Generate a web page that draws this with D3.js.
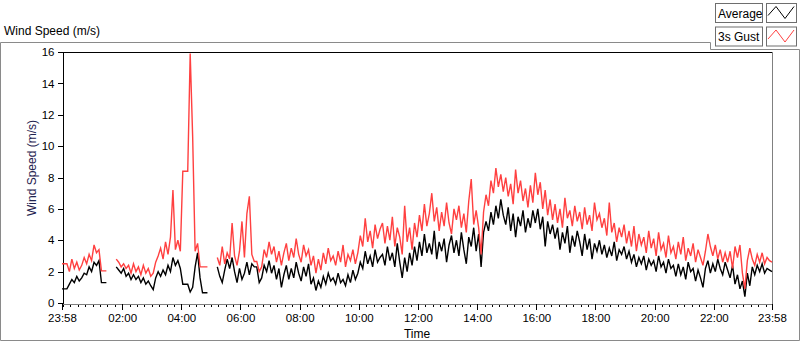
<!DOCTYPE html>
<html>
<head>
<meta charset="utf-8">
<style>
  body { margin: 0; background: #fff; }
  svg text { font-family: "Liberation Sans", Arial, sans-serif; fill: #000; }
</style>
</head>
<body>
<script src="https://cdn.jsdelivr.net/npm/d3@7"></script>
<script>
var width = 800, height = 342;

// one reading every 5 minutes, starting 23:58
var startTime = new Date(2000, 0, 1, 23, 58);
var stepMinutes = 5;

var avgSpeed = [
  0.9,0.9,0.9,1.2,1.5,1.3,1.7,1.4,1.6,1.9,
  1.8,2.3,2.0,2.6,2.4,2.7,1.3,1.3,1.3,null,
  null,null,2.3,2.1,1.9,2.2,1.7,1.9,1.5,1.8,
  1.5,1.7,1.3,1.6,1.2,1.4,1.1,0.85,1.6,2.0,
  1.7,2.1,1.8,2.4,2.0,2.9,2.4,2.7,2.2,1.2,
  1.2,1.2,0.7,1.0,2.3,3.2,1.6,0.65,0.65,0.65,
  null,null,null,2.3,1.7,1.3,2.1,2.8,2.2,2.9,
  2.0,1.3,2.2,1.5,1.9,2.6,1.8,2.5,2.3,2.3,
  1.3,1.6,2.4,2.0,2.7,1.9,2.4,1.5,2.2,1.0,
  1.8,2.4,1.5,2.2,1.6,2.6,1.9,1.4,2.3,1.7,
  2.5,1.2,1.6,0.8,1.4,1.0,1.7,1.2,1.9,1.4,
  1.6,1.2,1.9,1.3,1.5,1.1,1.8,1.3,2.1,1.5,
  1.9,2.6,2.2,3.3,2.5,3.0,2.3,3.4,2.6,2.9,
  3.1,2.4,3.6,2.7,3.2,2.3,3.8,2.6,1.6,2.9,
  2.0,3.2,2.4,3.6,2.7,3.9,3.0,4.4,3.2,3.8,
  3.1,4.6,2.8,3.9,3.3,4.1,2.6,3.7,4.3,3.2,
  4.0,3.0,4.5,3.4,2.5,4.2,3.6,4.8,3.3,4.4,
  2.3,4.5,5.2,4.6,5.8,5.0,6.2,5.4,6.6,5.6,
  5.0,6.1,4.6,5.7,4.2,5.5,4.9,5.9,4.5,5.4,
  4.8,5.9,5.1,6.0,4.7,5.5,3.6,5.2,4.4,5.0,
  4.1,4.8,3.4,4.5,3.8,4.9,3.2,4.3,3.6,4.6,
  3.9,3.0,4.4,3.4,4.1,2.8,3.8,3.3,4.0,3.1,
  3.7,2.9,3.5,3.0,3.9,2.7,3.4,3.1,3.6,2.8,
  3.3,2.6,3.1,2.3,2.9,2.5,3.0,2.1,2.8,2.4,
  2.7,2.0,3.0,2.3,2.6,1.9,2.8,2.2,2.4,1.7,
  2.5,1.8,2.3,1.5,2.6,2.0,2.2,1.4,2.1,1.6,
  1.0,2.2,2.7,1.9,2.5,2.0,2.8,2.2,1.8,2.6,
  2.1,1.6,2.4,1.2,1.8,0.9,1.4,0.4,1.9,1.1,
  2.3,1.8,2.4,2.0,2.5,1.9,2.2,2.1,2.0
];

var gustSpeed = [
  2.5,2.5,2.5,2.0,2.8,2.2,2.6,2.1,2.4,2.9,
  2.5,3.1,2.7,3.7,3.2,3.4,2.05,2.05,2.05,null,
  null,null,2.8,2.6,2.3,2.5,2.2,2.4,1.9,2.5,
  2.0,2.3,1.8,2.4,1.9,2.2,1.7,1.9,2.6,3.0,
  3.5,2.8,3.9,3.1,4.2,7.2,3.4,4.0,3.3,8.4,
  8.4,8.4,15.9,10.6,3.3,3.8,2.3,2.3,2.3,2.3,
  null,null,null,2.9,2.4,3.6,2.5,3.2,2.8,5.1,
  3.0,2.4,3.3,5.2,2.9,5.7,6.8,3.1,2.65,2.65,
  2.0,2.3,3.4,2.9,3.9,3.1,3.6,2.6,3.3,2.4,
  3.2,3.8,2.7,3.5,2.9,4.1,3.1,2.6,3.7,3.0,
  3.4,2.4,3.0,1.9,2.8,2.1,3.2,2.5,3.5,2.7,
  3.0,2.4,3.3,2.6,3.7,2.3,3.1,2.7,3.4,2.5,
  3.2,4.3,3.6,5.4,3.9,4.6,3.5,5.0,4.1,4.7,
  5.1,3.8,4.9,4.0,5.5,3.6,4.8,4.2,3.1,6.2,
  3.9,4.8,3.4,5.1,4.2,5.6,4.6,6.3,4.9,5.7,
  7.0,5.2,6.1,4.6,5.8,4.9,6.4,5.1,4.4,6.0,
  5.3,6.2,4.8,5.7,4.5,6.5,7.9,5.0,5.9,4.8,
  3.1,5.8,6.9,6.2,7.8,7.0,8.6,7.4,8.2,7.1,
  8.0,6.8,7.6,6.3,8.5,7.0,7.8,6.5,7.3,6.1,
  7.5,6.4,8.3,6.9,7.7,6.0,7.2,5.6,6.6,5.3,
  6.3,5.1,6.0,4.8,6.7,5.4,5.9,4.9,6.2,5.2,
  5.8,4.7,6.1,5.0,5.6,4.6,6.4,5.3,5.7,4.8,
  5.4,4.3,6.4,4.5,5.1,3.9,4.8,4.2,5.0,3.8,
  4.6,3.6,4.9,3.3,4.4,3.7,4.2,3.2,4.6,3.5,
  4.1,3.0,4.5,3.4,3.8,2.9,4.3,3.2,3.6,2.8,
  3.9,3.1,4.2,2.7,3.5,3.0,3.8,2.6,3.4,2.9,
  2.4,3.3,4.4,3.6,3.0,3.7,2.8,3.4,2.6,3.2,
  2.6,3.3,2.2,3.6,2.9,3.7,1.9,0.9,2.7,3.5,
  2.8,2.4,3.1,2.6,3.2,2.5,2.9,2.7,2.6
];

var seriesNames = ["Average", "3s Gust"];
var seriesColors = ["#000000", "#ff4040"];
var yTickValues = [0, 2, 4, 6, 8, 10, 12, 14, 16];
var xTickLabels = ["23:58","02:00","04:00","06:00","08:00","10:00","12:00",
                   "14:00","16:00","18:00","20:00","22:00","23:58"];

var svg = d3.select("body").append("svg")
  .attr("width", width)
  .attr("height", height);

// outer panel border (with the notch for the legend)
svg.append("path")
  .attr("d", "M0.5,42.5H710.5V49.5H799.5V340.5H0.5Z")
  .attr("fill", "none")
  .attr("stroke", "#8a8a8a");

svg.append("text")
  .attr("x", 4).attr("y", 35)
  .style("font-size", "12px")
  .text("Wind Speed (m/s)");

var endTime = d3.timeMinute.offset(startTime, 24 * 60);
var x = d3.scaleTime().domain([startTime, endTime]).range([62, 772]);
var y = d3.scaleLinear().domain([0, 16]).range([303, 52]);

// x axis: minor ticks every 15 min, labelled ones every 2 h (skipping midnight)
var minorTicks = d3.timeMinute.every(15).range(startTime, endTime);
var evenHours = d3.timeHour.every(2).range(startTime, endTime)
  .filter(function(d) { return d - startTime > 30 * 60000; });
var majorTicks = [startTime].concat(evenHours, [endTime]);

svg.append("g")
  .attr("transform", "translate(0,303.5)")
  .call(d3.axisBottom(x).tickValues(minorTicks).tickSize(3).tickSizeOuter(0).tickFormat(""))
  .call(function(g) { g.select(".domain").remove(); })
  .selectAll("line").attr("stroke", "#000").attr("shape-rendering", "crispEdges");

var xAxis = svg.append("g")
  .attr("transform", "translate(0,303.5)")
  .call(d3.axisBottom(x).tickValues(majorTicks).tickSize(6).tickSizeOuter(0)
        .tickFormat(function(d, i) { return xTickLabels[i]; }));
xAxis.select(".domain").attr("stroke", "#808080").attr("shape-rendering", "crispEdges");
xAxis.selectAll("line").attr("stroke", "#000").attr("shape-rendering", "crispEdges");
xAxis.selectAll("text")
  .attr("y", 10)
  .style("font-size", "11.5px")
  .style("font-family", "Liberation Sans, Arial, sans-serif")
  .attr("fill", "#000");

var yAxis = svg.append("g")
  .attr("transform", "translate(62.5,0)")
  .call(d3.axisLeft(y).tickValues(yTickValues).tickSize(5).tickSizeOuter(0).tickPadding(3));
yAxis.select(".domain").attr("stroke", "#000").attr("shape-rendering", "crispEdges");
yAxis.selectAll("line").attr("stroke", "#000").attr("shape-rendering", "crispEdges");
yAxis.selectAll("text")
  .style("font-size", "11.5px")
  .style("font-family", "Liberation Sans, Arial, sans-serif")
  .attr("fill", "#000");

// top and right frame lines
svg.append("line").attr("x1", 62).attr("x2", 772).attr("y1", 52.5).attr("y2", 52.5)
  .attr("stroke", "#000");
svg.append("line").attr("x1", 772.5).attr("x2", 772.5).attr("y1", 52).attr("y2", 304)
  .attr("stroke", "#808080");

// axis titles
svg.append("text")
  .attr("x", 417).attr("y", 338)
  .attr("text-anchor", "middle")
  .style("font-size", "12px")
  .text("Time");

svg.append("text")
  .attr("transform", "translate(36,168) rotate(-90)")
  .attr("text-anchor", "middle")
  .style("font-size", "12px")
  .style("fill", "#1f2350")
  .text("Wind Speed (m/s)");

// series
function timeAt(i) { return d3.timeMinute.offset(startTime, i * stepMinutes); }

var line = d3.line()
  .defined(function(d) { return d != null; })
  .x(function(d, i) { return x(timeAt(i)); })
  .y(function(d) { return y(d); });

var plot = svg.append("g");
[avgSpeed, gustSpeed].forEach(function(vals, k) {
  plot.append("path")
    .datum(vals)
    .attr("fill", "none")
    .attr("stroke", seriesColors[k])
    .attr("stroke-width", 1.4)
    .attr("stroke-linejoin", "miter")
    .attr("d", line);
});

// legend
var legend = svg.append("g");
var zig = d3.line();
seriesNames.forEach(function(name, k) {
  var top = 3.5 + k * 23.5;
  legend.append("rect")
    .attr("x", 715.5).attr("y", top).attr("width", 47).attr("height", 19)
    .attr("fill", "#fff").attr("stroke", "#6e6e6e");
  legend.append("text")
    .attr("x", 718).attr("y", top + 14)
    .style("font-size", "12px")
    .text(name);
  legend.append("rect")
    .attr("x", 766.5).attr("y", top).attr("width", 30).attr("height", 19)
    .attr("fill", "#fff").attr("stroke", "#6e6e6e");
  legend.append("path")
    .attr("d", zig([[768, top + 12], [776, top + 3], [785, top + 15], [794, top + 3]]))
    .attr("fill", "none")
    .attr("stroke", seriesColors[k]);
});
</script>
</body>
</html>
